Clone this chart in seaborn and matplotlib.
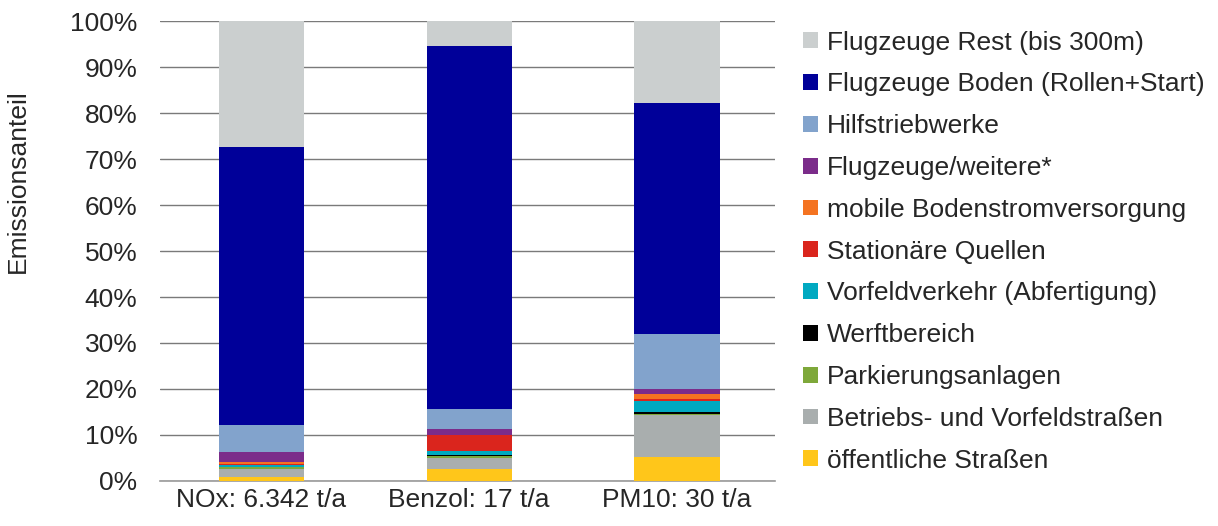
import matplotlib
matplotlib.use("Agg")
import matplotlib.pyplot as plt
import seaborn as sns
import pandas as pd
import numpy as np
from matplotlib.patches import Patch

categories = ["NOx: 6.342 t/a", "Benzol: 17 t/a", "PM10: 30 t/a"]

# series from bottom to top
series_names = [
    "öffentliche Straßen",
    "Betriebs- und Vorfeldstraßen",
    "Parkierungsanlagen",
    "Werftbereich",
    "Vorfeldverkehr (Abfertigung)",
    "Stationäre Quellen",
    "mobile Bodenstromversorgung",
    "Flugzeuge/weitere*",
    "Hilfstriebwerke",
    "Flugzeuge Boden (Rollen+Start)",
    "Flugzeuge Rest (bis 300m)",
]
oeff_strassen = [0.8, 2.5, 5.3]
betriebs_strassen = [1.7, 2.6, 9.1]
parkierung = [0.5, 0.35, 0.2]
werft = [0.05, 0.3, 0.45]
vorfeldverkehr = [0.4, 0.8, 2.4]
stationaer = [0.15, 3.5, 0.45]
bodenstrom = [0.5, 0.05, 0.95]
flugzeuge_weitere = [2.1, 1.1, 1.2]
hilfstriebwerke = [6.0, 4.4, 11.9]
flugzeuge_boden = [60.4, 79.0, 50.25]
flugzeuge_rest = [27.4, 5.4, 17.8]

series_values = [oeff_strassen, betriebs_strassen, parkierung, werft, vorfeldverkehr,
                 stationaer, bodenstrom, flugzeuge_weitere, hilfstriebwerke,
                 flugzeuge_boden, flugzeuge_rest]

colors = ["#FFC61A", "#A9AEAE", "#7EA83A", "#000000", "#00A9C1", "#DA251D",
          "#F47321", "#7B2C8A", "#82A3CC", "#000099", "#CBCFCF"]

sns.set_theme(style="white")
plt.rcParams["font.family"] = ["Liberation Sans", "DejaVu Sans"]

fig = plt.figure(figsize=(12.18, 5.26), dpi=100)
ax = fig.add_axes([0.131, 0.0856, 0.505, 0.8744])

cum = np.cumsum(np.array(series_values), axis=0)
# draw from top cumulative down so lower segments overlay
for i in range(len(series_names) - 1, -1, -1):
    df = pd.DataFrame({"cat": categories, "val": cum[i]})
    sns.barplot(data=df, x="cat", y="val", color=colors[i], saturation=1,
                width=0.41, linewidth=0, ax=ax, zorder=3)

FS = 19
ax.set_ylim(0, 100)
ax.set_xlim(-0.49, 2.47)
ax.set_yticks(np.arange(0, 101, 10))
ax.set_yticklabels([f"{v}%" for v in range(0, 101, 10)], fontsize=FS)
ax.tick_params(axis="x", labelsize=FS, length=0, pad=5)
ax.tick_params(axis="y", length=0, pad=16)
ax.yaxis.grid(True, color="#7a7a7a", linewidth=1.0, zorder=0)
ax.set_axisbelow(True)
for s in ["top", "right", "left"]:
    ax.spines[s].set_visible(False)
ax.spines["bottom"].set_color("#9a9a9a")
ax.spines["bottom"].set_linewidth(1.2)
ax.set_xlabel("")
ax.set_ylabel("Emissionsanteil", fontsize=FS)
ax.yaxis.set_label_coords(-0.211, 0.652)

handles = [Patch(facecolor=colors[i], edgecolor="none") for i in range(len(series_names) - 1, -1, -1)]
labels = [series_names[i] for i in range(len(series_names) - 1, -1, -1)]
fig.legend(handles, labels, loc="upper left", bbox_to_anchor=(0.651, 0.962),
           frameon=False, fontsize=FS, handlelength=0.55, handleheight=0.55,
           handletextpad=0.35, labelspacing=0.675, borderaxespad=0)

fig.savefig("out.png", dpi=100)
